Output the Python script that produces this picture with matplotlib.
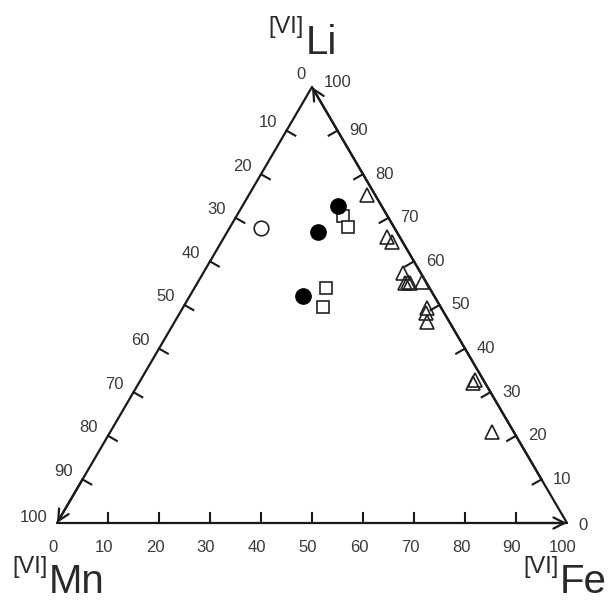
import numpy as np
import matplotlib
matplotlib.use('Agg')
import matplotlib.pyplot as plt

plt.rcParams['font.family'] = ['Liberation Sans', 'DejaVu Sans']

# ---- data (percent: Li, Fe, Mn) ----
filled_li = [72.7, 66.8, 52.1]
filled_fe = [18.8, 17.8, 22.2]
filled_mn = [8.5, 15.4, 25.7]

open_li = [67.7]
open_fe = [6.1]
open_mn = [26.2]

square_li = [70.5, 67.8, 54.0, 49.5]
square_fe = [20.8, 23.1, 25.8, 27.5]
square_mn = [8.7, 9.1, 20.2, 23.0]

tri_li = [75.2, 65.6, 64.4, 57.3, 55.3, 55.0, 55.0, 55.3, 49.3, 48.2, 46.1, 32.8, 32.1, 20.9]
tri_fe = [23.2, 31.9, 33.5, 39.2, 41.2, 40.7, 41.7, 44.0, 47.9, 48.3, 49.5, 65.6, 65.5, 74.8]
tri_mn = [1.6, 2.5, 2.1, 3.5, 3.5, 4.3, 3.3, 0.7, 2.8, 3.5, 4.4, 1.6, 2.4, 4.3]

tick_values = [10, 20, 30, 40, 50, 60, 70, 80, 90]
label_values = [0, 10, 20, 30, 40, 50, 60, 70, 80, 90, 100]

H = np.sqrt(3) / 2


def tern(li, fe, mn):
    li = np.asarray(li, float); fe = np.asarray(fe, float); mn = np.asarray(mn, float)
    tot = li + fe + mn
    li = li / tot * 100; fe = fe / tot * 100
    return fe + li / 2, li * H


fig = plt.figure(figsize=(6.12, 6.03), dpi=100)
fig.patch.set_facecolor('white')
ax = fig.add_axes([57 / 612, 80 / 603, 510 / 612, 436 / 603])
ax.set_xlim(0, 100)
ax.set_ylim(0, 100 * H)
ax.axis('off')

lc = '#1a1a1a'
tc = '#3a3a3a'
A = (0, 0)          # Mn
B = (100, 0)        # Fe
C = (50, 100 * H)   # Li

# edges
for P, Q in [(A, B), (B, C), (C, A)]:
    ax.plot([P[0], Q[0]], [P[1], Q[1]], color=lc, lw=1.6, clip_on=False,
            solid_capstyle='round', zorder=2)

# arrowheads: bottom (Fe) -> right, right (Li) -> top, left (Mn) -> bottom-left
for start, end in [((90, 0), B), ((95, 10 * H), C), ((5, 10 * H), A)]:
    ax.annotate('', xy=end, xytext=start,
                arrowprops=dict(arrowstyle='->', lw=1.6, color=lc,
                                mutation_scale=20, shrinkA=0, shrinkB=0),
                annotation_clip=False, zorder=3)

tl = 2.0
nL = np.array([0.866, -0.5]) * tl
nR = np.array([-0.866, -0.5]) * tl
for v in tick_values:
    # bottom (Fe)
    ax.plot([v, v], [0, tl], color=lc, lw=1.5, clip_on=False)
    # left (Mn)
    p = np.array([(100 - v) / 2, (100 - v) * H])
    ax.plot([p[0], p[0] + nL[0]], [p[1], p[1] + nL[1]], color=lc, lw=1.5, clip_on=False)
    # right (Li)
    p = np.array([100 - v / 2, v * H])
    ax.plot([p[0], p[0] + nR[0]], [p[1], p[1] + nR[1]], color=lc, lw=1.5, clip_on=False)

fs = 12
for v in label_values:
    # bottom labels (Fe)
    ax.annotate(str(v), xy=(v, 0), xytext=(-4, -25), textcoords='offset pixels',
                ha='center', va='center', fontsize=fs, color=tc, annotation_clip=False)
    # left labels (Mn)
    p = ((100 - v) / 2, (100 - v) * H)
    if v == 0:
        off = (-11, 12)
    elif v == 100:
        off = (-23, 6)
    else:
        off = (-19, 8)
    ax.annotate(str(v), xy=p, xytext=off, textcoords='offset pixels',
                ha='center', va='center', fontsize=fs, color=tc, annotation_clip=False)
    # right labels (Li)
    p = (100 - v / 2, v * H)
    if v == 0:
        off = (16, -2)
    elif v == 100:
        off = (26, 4)
    else:
        off = (21, 0)
    ax.annotate(str(v), xy=p, xytext=off, textcoords='offset pixels',
                ha='center', va='center', fontsize=fs, color=tc, annotation_clip=False)

# data points
mc = '#222222'
x, y = tern(tri_li, tri_fe, tri_mn)
ax.plot(x, y, ls='none', marker='^', ms=10, mfc='none', mec=mc, mew=1.2, clip_on=False, zorder=4)
x, y = tern(square_li, square_fe, square_mn)
ax.plot(x, y, ls='none', marker='s', ms=9, mfc='white', mec=mc, mew=1.2, clip_on=False, zorder=4)
x, y = tern(open_li, open_fe, open_mn)
ax.plot(x, y, ls='none', marker='o', ms=10.5, mfc='white', mec=mc, mew=1.2, clip_on=False, zorder=4)
x, y = tern(filled_li, filled_fe, filled_mn)
ax.plot(x, y, ls='none', marker='o', ms=11, mfc='black', mec='black', mew=1.0, clip_on=False, zorder=5)


# vertex labels
def fx(px):
    return px / 612


def fy(py):
    return 1 - py / 603


vc = '#2a2a2a'
fig.text(fx(304), fy(33), '[VI]', fontsize=17, color=vc, ha='right', va='baseline')
fig.text(fx(306), fy(54), 'Li', fontsize=29, color=vc, ha='left', va='baseline')
fig.text(fx(48), fy(573), '[VI]', fontsize=17, color=vc, ha='right', va='baseline')
fig.text(fx(49), fy(593), 'Mn', fontsize=29, color=vc, ha='left', va='baseline')
fig.text(fx(559), fy(573), '[VI]', fontsize=17, color=vc, ha='right', va='baseline')
fig.text(fx(560), fy(593), 'Fe', fontsize=29, color=vc, ha='left', va='baseline')

fig.savefig('out.png', dpi=100, facecolor='white')
